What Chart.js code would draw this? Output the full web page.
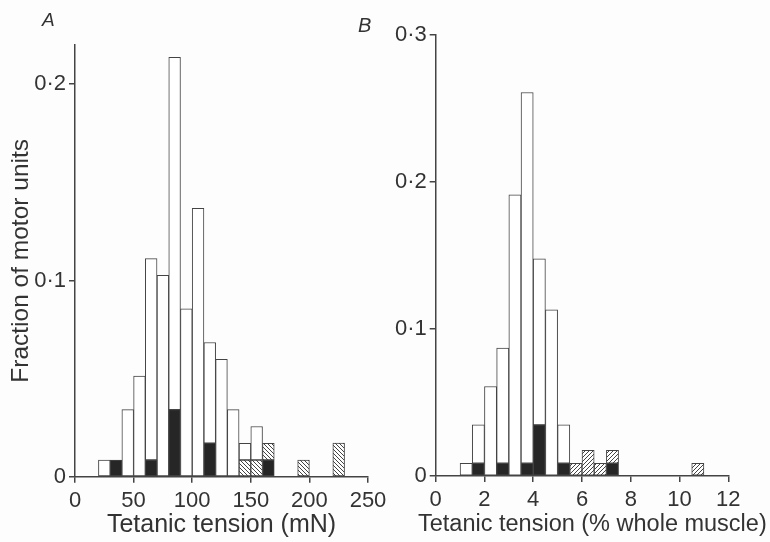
<!DOCTYPE html>
<html>
<head>
<meta charset="utf-8">
<script src="https://cdn.jsdelivr.net/npm/chart.js@4.4.1/dist/chart.umd.min.js"></script>
<style>
html,body{margin:0;padding:0;background:#fdfdfd;}
#wrap{position:relative;width:770px;height:542px;overflow:hidden;background:#fdfdfd;}
#wrap canvas{position:absolute;left:0;top:0;}
.lbl{position:absolute;font-family:"Liberation Sans",Arial,sans-serif;color:#333;white-space:nowrap;line-height:1;}
.it{font-style:italic;}
</style>
</head>
<body>
<div id="wrap">
  <canvas id="cA" width="770" height="542"></canvas>
  <canvas id="cB" width="770" height="542"></canvas>
  <div class="lbl it" style="left:42px;top:10px;font-size:19px;">A</div>
  <div class="lbl it" style="left:358px;top:14.5px;font-size:20px;">B</div>
  <div class="lbl" id="titleB" style="left:418px;top:512px;font-size:23.5px;"></div>
</div>
<script>
// ---------- Panel A: tetanic tension (mN), bins of 10 mN (bin centres) ----------
const binsA   = [25, 35, 45, 55, 65, 75, 85, 95, 105, 115, 125, 135, 145, 155, 165, 195, 225];
const solidA  = [null, 0.0085, null, null, 0.0085, null, 0.0342, null, null, 0.0171, null, null, null, null, 0.0085, null, null];
const hatchA  = [null, null, null, null, null, null, null, null, null, null, null, null, 0.0085, 0.0085, 0.0085, 0.0085, 0.0171];
const openA   = [0.0085, null, 0.0342, 0.0513, 0.1026, 0.1026, 0.1795, 0.0855, 0.1368, 0.0513, 0.0598, 0.0342, 0.0085, 0.0171, null, null, null];
const xTicksA = [0, 50, 100, 150, 200, 250];
const xLabelsA = ['0', '50', '100', '150', '200', '250'];
const yTicksA = [0, 0.1, 0.2];
const yLabelsA = ['0', '0·1', '0·2'];

// ---------- Panel B: tetanic tension (% whole muscle), bins of 0.5 % ----------
const binsB   = [1.25, 1.75, 2.25, 2.75, 3.25, 3.75, 4.25, 4.75, 5.25, 5.75, 6.25, 6.75, 7.25, 10.75];
const solidB  = [null, 0.0087, null, 0.0087, null, 0.0087, 0.0348, null, 0.0087, null, null, null, 0.0087, null];
const hatchB  = [null, null, null, null, null, null, null, null, null, 0.0087, 0.0174, 0.0087, 0.0087, 0.0087];
const openB   = [0.0087, 0.0261, 0.0609, 0.0783, 0.1913, 0.2522, 0.1130, 0.1130, 0.0261, null, null, null, null, null];
const xTicksB = [0, 2, 4, 6, 8, 10, 12];
const xLabelsB = ['0', '2', '4', '6', '8', '10', '12'];
const yTicksB = [0, 0.1, 0.2, 0.3];
const yLabelsB = ['0', '0·1', '0·2', '0·3'];

const titleA = 'Tetanic tension (mN)';
const titleB = 'Tetanic tension (% whole muscle)';
const titleY = 'Fraction of motor units';
document.getElementById('titleB').textContent = titleB;

const FONT = '"Liberation Sans", Arial, sans-serif';
const TXT = '#333';
const LINE = '#444';

function hatchPattern(dir) {
  const s = 4;
  const c = document.createElement('canvas');
  c.width = s; c.height = s;
  const g = c.getContext('2d');
  g.fillStyle = '#ffffff';
  g.fillRect(0, 0, s, s);
  g.strokeStyle = '#444';
  g.lineWidth = 1;
  g.beginPath();
  for (let k = -1; k <= 1; k++) {
    if (dir === 'back') { g.moveTo(k * s, 0); g.lineTo(k * s + s, s); }
    else { g.moveTo(k * s, s); g.lineTo(k * s + s, 0); }
  }
  g.stroke();
  return document.createElement('canvas').getContext('2d').createPattern(c, 'repeat');
}

function pts(bins, vals) { return bins.map((x, i) => ({ x: x, y: vals[i] })); }

function barSet(bins, vals, fill) {
  return {
    data: pts(bins, vals),
    backgroundColor: fill,
    borderColor: LINE,
    borderWidth: 1,
    borderSkipped: false,
    barPercentage: 1,
    categoryPercentage: 1
  };
}

function makeChart(id, cfg) {
  const axisCommon = {
    grid: { display: true, drawOnChartArea: false, drawTicks: true, tickLength: 6, color: LINE, lineWidth: 1.5, offset: false },
    border: { display: true, color: LINE, width: 1.5 }
  };
  return new Chart(document.getElementById(id), {
    type: 'bar',
    data: {
      datasets: [
        barSet(cfg.bins, cfg.solid, '#262626'),
        barSet(cfg.bins, cfg.hatch, cfg.pattern),
        barSet(cfg.bins, cfg.open, '#ffffff')
      ]
    },
    options: {
      responsive: false,
      animation: false,
      devicePixelRatio: 1,
      layout: { padding: cfg.padding },
      plugins: { legend: { display: false }, tooltip: { enabled: false } },
      scales: {
        x: Object.assign({}, axisCommon, {
          type: 'linear', min: cfg.xMin, max: cfg.xMax, stacked: true, offset: false,
          afterBuildTicks: s => { s.ticks = cfg.xTicks.map(v => ({ value: v })); },
          afterFit: s => { s.height = cfg.xHeight; },
          ticks: {
            autoSkip: false, maxRotation: 0, padding: 5, color: TXT,
            font: { family: FONT, size: 22 },
            callback: v => cfg.xLabels[cfg.xTicks.indexOf(v)]
          },
          title: cfg.xTitle ? {
            display: true, text: cfg.xTitle, color: TXT,
            font: { family: FONT, size: 25 }, padding: { top: 0, bottom: 2 }
          } : { display: false }
        }),
        y: Object.assign({}, axisCommon, {
          min: 0, max: cfg.yMax, stacked: true,
          afterBuildTicks: s => { s.ticks = cfg.yTicks.map(v => ({ value: v })); },
          afterFit: s => { s.width = cfg.yWidth; },
          ticks: {
            padding: 3, color: TXT,
            font: { family: FONT, size: 22 },
            callback: v => cfg.yLabels[cfg.yTicks.indexOf(v)]
          },
          title: cfg.yTitle ? {
            display: true, text: cfg.yTitle, color: TXT,
            font: { family: FONT, size: 24.5 }, padding: { top: 7, bottom: 0 }
          } : { display: false }
        })
      }
    }
  });
}

makeChart('cA', {
  bins: binsA, solid: solidA, hatch: hatchA, open: openA, pattern: hatchPattern('back'),
  xMin: 0, xMax: 250, xTicks: xTicksA, xLabels: xLabelsA,
  yMax: 0.22, yTicks: yTicksA, yLabels: yLabelsA,
  xTitle: titleA, yTitle: titleY,
  padding: { left: 0, top: 45, right: 402, bottom: 0 }, yWidth: 75, xHeight: 65.3
});

makeChart('cB', {
  bins: binsB, solid: solidB, hatch: hatchB, open: openB, pattern: hatchPattern('fwd'),
  xMin: 0, xMax: 12, xTicks: xTicksB, xLabels: xLabelsB,
  yMax: 0.3, yTicks: yTicksB, yLabels: yLabelsB,
  xTitle: null, yTitle: null,
  padding: { left: 385, top: 35, right: 41.7, bottom: 0 }, yWidth: 50.7, xHeight: 66
});
</script>
</body>
</html>
